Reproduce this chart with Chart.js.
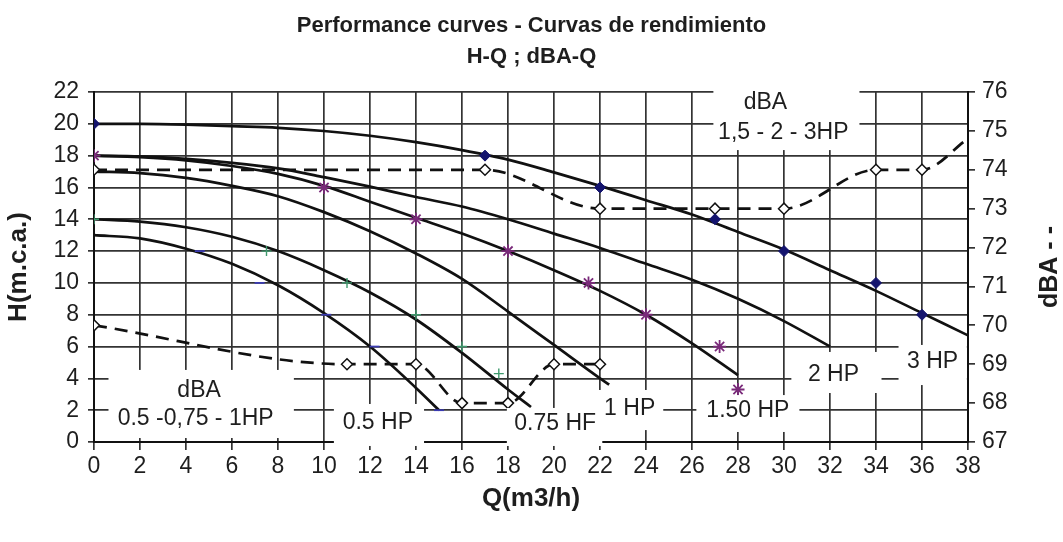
<!DOCTYPE html>
<html>
<head>
<meta charset="utf-8">
<script src="https://cdn.jsdelivr.net/npm/chart.js@4.4.1/dist/chart.umd.min.js"></script>
<style>
  html, body { margin: 0; padding: 0; background: #ffffff; }
  canvas { display: block; }
</style>
</head>
<body>
<canvas id="chart" width="1063" height="542"></canvas>
<script>
// ---- Axis tick values ----
const flowTicks = [0, 2, 4, 6, 8, 10, 12, 14, 16, 18, 20, 22, 24, 26, 28, 30, 32, 34, 36, 38];
const headTicks = [0, 2, 4, 6, 8, 10, 12, 14, 16, 18, 20, 22];
const dbaTicks = [67, 68, 69, 70, 71, 72, 73, 74, 75, 76];

// ---- H-Q curves (Q in m3/h, H in m.c.a.) ----
const q3hp = [0, 2, 4, 6, 8, 10, 12, 14, 16, 18, 20, 22, 24, 26, 28, 30, 32, 34, 36, 38];
const h3hp = [20.0, 20.0, 19.95, 19.85, 19.75, 19.55, 19.25, 18.85, 18.35, 17.75, 16.95, 16.1, 15.2, 14.3, 13.2, 12.1, 10.8, 9.5, 8.1, 6.7];

const q2hp = [0, 2, 4, 6, 8, 10, 12, 14, 16, 18, 20, 22, 24, 26, 28, 30, 32];
const h2hp = [18.0, 17.95, 17.8, 17.55, 17.2, 16.65, 16.05, 15.4, 14.8, 14.0, 13.1, 12.2, 11.2, 10.2, 9.0, 7.6, 6.0];

const q150hp = [0, 2, 4, 6, 8, 10, 12, 14, 16, 18, 20, 22, 24, 26, 28];
const h150hp = [18.0, 17.9, 17.7, 17.35, 16.85, 16.1, 15.1, 14.1, 13.1, 12.0, 10.8, 9.5, 8.0, 6.2, 4.2];

const q1hp = [0, 2, 4, 6, 8, 10, 12, 14, 16, 18, 20, 22, 22.4];
const h1hp = [17.0, 16.9, 16.6, 16.1, 15.45, 14.45, 13.25, 11.85, 10.25, 8.2, 6.1, 4.0, 3.6];

const q075hp = [0, 2, 4, 6, 8, 10, 12, 14, 16, 18, 19];
const h075hp = [14.0, 13.85, 13.5, 12.9, 12.0, 10.8, 9.4, 7.7, 5.6, 3.3, 2.2];

const q05hp = [0, 2, 4, 6, 8, 10, 12, 14, 15];
const h05hp = [13.0, 12.8, 12.15, 11.2, 9.85, 8.1, 6.0, 3.4, 2.0];

// ---- Measured points ----
const m3hpQ = [0, 17, 22, 27, 30, 34, 36];
const m3hpH = [20, 18, 16, 14, 12, 10, 8];

const m150hpQ = [0, 10, 14, 18, 21.5, 24, 27.2, 28];
const m150hpH = [18, 16, 14, 12, 10, 8, 6, 3.3];

const m075hpQ = [0, 7.5, 11, 14, 16, 17.6];
const m075hpH = [14, 12, 10, 8, 6, 4.3];

const m05hpQ = [4.6, 7.2, 10.1, 12.2, 15];
const m05hpH = [12, 10, 8, 6, 2];

// ---- Noise curves (dBA) ----
const dbaBigQ = [0, 17, 22, 27, 30, 34, 36, 38];
const dbaBig = [74, 74, 73, 73, 73, 74, 74, 74.8];
const dbaBigMarked = [true, true, true, true, true, true, true, false];

const dbaSmallQ = [0, 11, 14, 16, 18, 20, 22];
const dbaSmall = [70, 69, 69, 68, 68, 69, 69];

// ---- In-plot captions (positions in axis units) ----
const captionBoxes = [
  { x0: 26.93, x1: 33.28, y0: 22.4, y1: 18.35 },
  { x0: 0.63, x1: 8.69, y0: 4.53, y1: 0.25 },
  { x0: 10.43, x1: 14.35, y0: 2.39, y1: -0.25 },
  { x0: 17.95, x1: 22.1, y0: 2.14, y1: -0.25 },
  { x0: 21.95, x1: 24.75, y0: 3.27, y1: 0.75 },
  { x0: 26.19, x1: 30.67, y0: 2.95, y1: 0.63 },
  { x0: 30.32, x1: 34.24, y0: 5.66, y1: 3.08 },
  { x0: 34.98, x1: 37.95, y0: 6.1, y1: 3.58 }
];
const captionTexts = [
  { text: 'dBA', x: 29.19, y: 21.34 },
  { text: '1,5 - 2 - 3HP', x: 29.97, y: 19.45 },
  { text: 'dBA', x: 4.57, y: 3.24 },
  { text: '0.5 -0,75 - 1HP', x: 4.42, y: 1.48 },
  { text: '0.5 HP', x: 12.34, y: 1.23 },
  { text: '0.75 HF', x: 20.05, y: 1.13 },
  { text: '1 HP', x: 23.29, y: 2.11 },
  { text: '1.50 HP', x: 28.43, y: 1.95 },
  { text: '2 HP', x: 32.15, y: 4.21 },
  { text: '3 HP', x: 36.46, y: 5.06 }
];

const FONT = "'Liberation Sans', Arial, sans-serif";
const INK = '#1e1e1e';
const GRID = '#333333';

function pairs(xs, ys) {
  return xs.map((x, i) => ({ x: x, y: ys[i] }));
}

function curve(label, xs, ys) {
  return {
    label: label,
    data: pairs(xs, ys),
    showLine: true,
    borderColor: '#111111',
    borderWidth: 2.7,
    pointRadius: 0,
    pointHoverRadius: 0,
    cubicInterpolationMode: 'monotone',
    fill: false,
    yAxisID: 'y',
    order: 2
  };
}

function markers(label, xs, ys, style, color, radius, width) {
  return {
    label: label,
    data: pairs(xs, ys),
    showLine: false,
    pointStyle: style,
    pointRadius: radius,
    pointBorderColor: color,
    pointBackgroundColor: color,
    pointBorderWidth: width,
    yAxisID: 'y',
    order: 0
  };
}

function noiseCurve(label, xs, ys, radii) {
  return {
    label: label,
    data: pairs(xs, ys),
    showLine: true,
    borderColor: '#111111',
    borderWidth: 2.7,
    borderDash: [13, 8],
    cubicInterpolationMode: 'monotone',
    pointStyle: 'rectRot',
    pointRadius: radii,
    pointBackgroundColor: '#ffffff',
    pointBorderColor: '#111111',
    pointBorderWidth: 1.5,
    fill: false,
    yAxisID: 'yDba',
    order: 1
  };
}

// White caption boxes and their text, drawn over the plot
const captionPlugin = {
  id: 'captions',
  afterDatasetsDraw(chart) {
    const { ctx, scales } = chart;
    const xs = scales.x, ys = scales.y;
    ctx.save();
    ctx.fillStyle = '#ffffff';
    captionBoxes.forEach(b => {
      const l = xs.getPixelForValue(b.x0), r = xs.getPixelForValue(b.x1);
      const t = ys.getPixelForValue(b.y0), btm = ys.getPixelForValue(b.y1);
      ctx.fillRect(l, t, r - l, btm - t);
    });
    ctx.fillStyle = INK;
    ctx.font = '23px ' + FONT;
    ctx.textAlign = 'center';
    ctx.textBaseline = 'middle';
    captionTexts.forEach(c => {
      ctx.fillText(c.text, xs.getPixelForValue(c.x), ys.getPixelForValue(c.y));
    });
    ctx.restore();
  },
  afterDraw(chart) {
    // Right-hand axis title, reading bottom to top
    const { ctx, chartArea } = chart;
    ctx.save();
    ctx.translate(chart.width - 13, (chartArea.top + chartArea.bottom) / 2);
    ctx.rotate(-Math.PI / 2);
    ctx.fillStyle = INK;
    ctx.font = 'bold 25px ' + FONT;
    ctx.textAlign = 'center';
    ctx.textBaseline = 'middle';
    ctx.fillText('dBA - -', 0, 0);
    ctx.restore();
  }
};

const chart = new Chart(document.getElementById('chart'), {
  type: 'scatter',
  data: {
    datasets: [
      markers('3 HP', m3hpQ, m3hpH, 'rectRot', '#14146e', 5.5, 1),
      markers('1.50 HP', m150hpQ, m150hpH, 'star', '#7a2a7a', 6.5, 1.8),
      markers('0.75 HP', m075hpQ, m075hpH, 'cross', '#3f9a6e', 5, 1.4),
      markers('0.5 HP', m05hpQ, m05hpH, 'line', '#3a3ab0', 5, 1.8),
      noiseCurve('dBA 1,5 - 2 - 3HP', dbaBigQ, dbaBig, dbaBigMarked.map(m => m ? 5.5 : 0)),
      noiseCurve('dBA 0.5 -0,75 - 1HP', dbaSmallQ, dbaSmall, 5.5),
      curve('3 HP', q3hp, h3hp),
      curve('2 HP', q2hp, h2hp),
      curve('1.50 HP', q150hp, h150hp),
      curve('1 HP', q1hp, h1hp),
      curve('0.75 HP', q075hp, h075hp),
      curve('0.5 HP', q05hp, h05hp)
    ]
  },
  options: {
    responsive: false,
    animation: false,
    devicePixelRatio: 1,
    layout: { padding: 0 },
    plugins: {
      legend: { display: false },
      tooltip: { enabled: false },
      title: {
        display: true,
        text: ['Performance curves - Curvas de rendimiento', 'H-Q ; dBA-Q'],
        color: INK,
        font: { family: FONT, size: 22, weight: 'bold', lineHeight: 31 / 22 },
        padding: { top: 10, bottom: 20 }
      }
    },
    scales: {
      x: {
        type: 'linear',
        position: 'bottom',
        min: 0,
        max: 38,
        afterBuildTicks(scale) { scale.ticks = flowTicks.map(v => ({ value: v })); },
        afterFit(scale) { scale.height = 100; },
        ticks: { color: INK, font: { family: FONT, size: 23 }, padding: 3, maxRotation: 0, autoSkip: false },
        grid: { color: GRID, lineWidth: 1.7, tickLength: 8, tickColor: GRID },
        border: { display: true, color: '#111111', width: 2 },
        title: {
          display: true,
          text: 'Q(m3/h)',
          color: INK,
          font: { family: FONT, size: 26, weight: 'bold' },
          padding: { top: 0, bottom: 28 }
        }
      },
      y: {
        type: 'linear',
        position: 'left',
        min: 0,
        max: 22,
        afterBuildTicks(scale) { scale.ticks = headTicks.map(v => ({ value: v })); },
        afterFit(scale) { scale.width = 94; },
        ticks: { color: INK, font: { family: FONT, size: 23 }, padding: 9, autoSkip: false },
        grid: { color: GRID, lineWidth: 1.7, tickLength: 6, tickColor: GRID },
        border: { display: true, color: '#111111', width: 2 },
        title: {
          display: true,
          text: 'H(m.c.a.)',
          color: INK,
          font: { family: FONT, size: 26, weight: 'bold' },
          padding: { top: 3, bottom: 0 }
        }
      },
      yDba: {
        type: 'linear',
        position: 'right',
        min: 67,
        max: 76,
        afterBuildTicks(scale) { scale.ticks = dbaTicks.map(v => ({ value: v })); },
        afterFit(scale) { scale.width = 95; },
        ticks: { color: INK, font: { family: FONT, size: 23 }, padding: 7, autoSkip: false },
        grid: { drawOnChartArea: false, color: GRID, lineWidth: 1.7, tickLength: 7, tickColor: GRID },
        border: { display: true, color: '#111111', width: 2 }
      }
    }
  },
  plugins: [captionPlugin]
});
</script>
</body>
</html>
